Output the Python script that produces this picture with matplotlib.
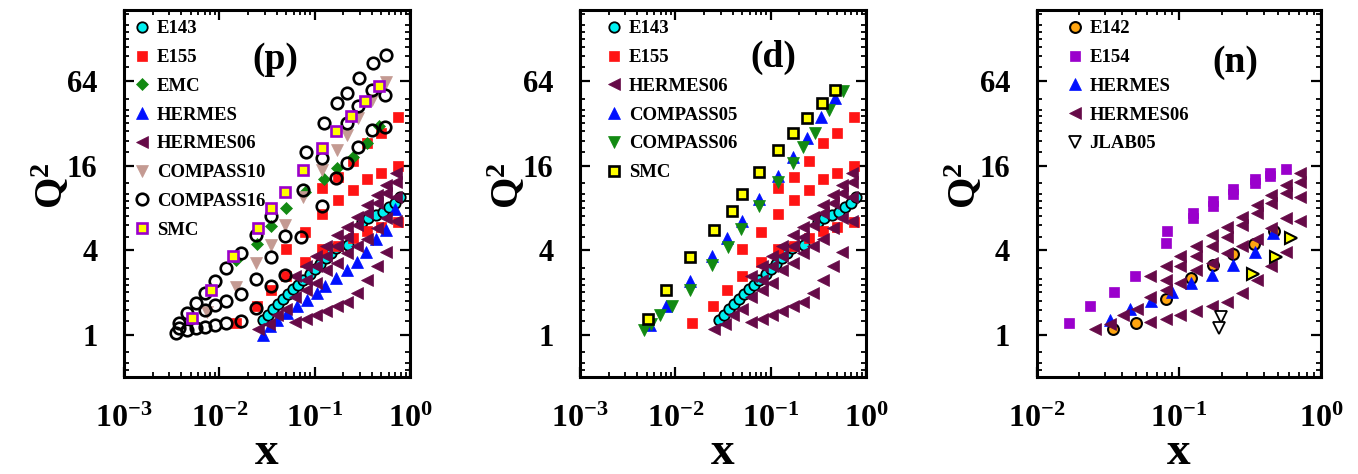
import numpy as np
import matplotlib
matplotlib.use("Agg")
import matplotlib.pyplot as plt
from matplotlib.ticker import FixedLocator, FuncFormatter, LogLocator, NullFormatter

plt.rcParams.update({
    "font.family": ["Liberation Serif", "DejaVu Serif"],
    "font.weight": "bold",
    "mathtext.fontset": "custom",
    "mathtext.rm": "Liberation Serif:bold",
    "mathtext.bf": "Liberation Serif:bold",
    "mathtext.it": "Liberation Serif:bold:italic",
})

# ---------------- data (x, Q^2) ----------------
# shared kinematics
e143_x = [0.0289, 0.0326, 0.0367, 0.0415, 0.0468, 0.0528, 0.0596, 0.0672, 0.0758, 0.0891, 0.1005,
          0.113, 0.133, 0.150, 0.169, 0.224, 0.310, 0.363, 0.444, 0.522, 0.603, 0.691, 0.780]
e143_q2 = [1.28, 1.39, 1.52, 1.66, 1.80, 1.96, 2.11, 2.27, 2.46, 2.72, 2.93,
           3.18, 3.51, 3.81, 4.13, 4.37, 6.39, 6.76, 7.13, 7.53, 8.10, 8.73, 9.63]

e155_x = [0.015, 0.025, 0.035, 0.050, 0.080, 0.120, 0.175, 0.250, 0.350, 0.500, 0.750,
          0.050, 0.080, 0.120, 0.175, 0.250, 0.350, 0.500, 0.750,
          0.120, 0.175, 0.250, 0.350, 0.500, 0.750]
e155_q2 = [1.22, 1.60, 2.08, 2.60, 3.32, 4.07, 4.30, 4.90, 5.50, 5.80, 6.30,
           4.05, 5.43, 7.20, 9.10, 10.7, 12.8, 14.2, 15.8,
           11.0, 13.2, 17.2, 23.0, 27.2, 35.5]

herm06_x = [0.0625, 0.081, 0.1027, 0.133, 0.170, 0.2164, 0.276, 0.352, 0.448, 0.566, 0.710,
            0.0406, 0.0504, 0.0625, 0.081, 0.1027, 0.133, 0.170, 0.2164, 0.276, 0.352, 0.448, 0.566, 0.710,
            0.081, 0.1027, 0.133, 0.170, 0.2164, 0.276, 0.352, 0.448, 0.566, 0.710,
            0.0257, 0.0328, 0.0625, 0.081, 0.1027, 0.133, 0.170, 0.2164, 0.276, 0.352, 0.448, 0.566, 0.710]
herm06_q2 = [2.60, 3.06, 3.61, 4.25, 5.14, 5.89, 6.94, 8.40, 9.90, 11.66, 14.27,
             1.39, 1.52, 1.87, 2.46, 3.06, 3.61, 4.25, 5.00, 6.06, 7.33, 8.64, 10.17, 12.31,
             2.09, 2.33, 2.90, 3.23, 3.81, 4.30, 4.80, 5.73, 6.75, 9.63,
             1.10, 1.20, 1.24, 1.29, 1.39, 1.47, 1.59, 1.70, 1.98, 2.46, 3.06, 3.91, 6.40]

# proton panel
emc_x = [0.015, 0.025, 0.035, 0.050, 0.080, 0.125, 0.170, 0.250, 0.350, 0.470]
emc_q2 = [3.40, 4.45, 5.96, 8.00, 10.3, 12.9, 15.3, 18.3, 23.1, 30.5]

hermes_p_x = [0.0289, 0.034, 0.040, 0.0508, 0.0646, 0.0822, 0.105, 0.128, 0.169, 0.216,
              0.275, 0.349, 0.444, 0.566, 0.690]
hermes_p_q2 = [1.00, 1.15, 1.28, 1.43, 1.59, 1.77, 1.98, 2.21, 2.53, 2.90,
               3.32, 3.91, 4.79, 5.60, 7.80]

compass10_x = [0.0074, 0.0148, 0.024, 0.0347, 0.0485, 0.0755, 0.119, 0.170, 0.219, 0.284, 0.401, 0.561]
compass10_q2 = [1.45, 2.18, 3.23, 4.32, 6.06, 9.50, 15.0, 20.7, 26.6, 34.7, 46.9, 63.3]

compass16_x = [0.00352, 0.00373, 0.00382, 0.00456, 0.00456, 0.0057, 0.0057, 0.00708, 0.00708, 0.00708,
               0.0090, 0.0090, 0.0090, 0.01175, 0.01175, 0.01175, 0.0167, 0.0167, 0.0167,
               0.024, 0.024, 0.024, 0.0347, 0.0347, 0.0347, 0.0485, 0.0485, 0.0726, 0.0755, 0.0806,
               0.119, 0.119, 0.125, 0.168, 0.170, 0.219, 0.219, 0.219, 0.284, 0.284, 0.295,
               0.401, 0.401, 0.406, 0.552, 0.552, 0.561]
compass16_q2 = [1.03, 1.12, 1.22, 1.085, 1.43, 1.12, 1.68, 1.13, 1.49, 1.98,
                1.18, 1.63, 2.42, 1.22, 1.73, 2.98, 1.26, 1.95, 3.81,
                1.55, 2.49, 5.14, 2.21, 3.55, 7.02, 2.67, 5.06, 4.95, 10.7, 19.9,
                8.31, 18.0, 32.2, 13.0, 44.4, 16.6, 32.4, 52.9, 21.8, 42.5, 67.6,
                28.7, 55.2, 86.4, 30.3, 50.9, 98.0]

smc_p_x = [0.00514, 0.00811, 0.0140, 0.0252, 0.0347, 0.0485, 0.0755, 0.119, 0.168, 0.2415, 0.334, 0.478]
smc_p_q2 = [1.31, 2.09, 3.61, 5.73, 7.96, 10.45, 14.9, 21.5, 28.2, 36.1, 46.4, 59.0]

# deuteron panel
compass05_x = [0.0054, 0.00805, 0.01436, 0.0245, 0.0352, 0.0498, 0.0763, 0.120, 0.1726, 0.238, 0.341, 0.470]
compass05_q2 = [1.18, 1.61, 2.42, 3.61, 4.87, 6.50, 9.22, 13.5, 18.5, 25.0, 35.7, 48.2]

compass06_x = [0.00467, 0.00557, 0.00697, 0.00923, 0.01436, 0.0242, 0.0355, 0.049, 0.0763, 0.120,
               0.1726, 0.219, 0.290, 0.410, 0.575]
compass06_q2 = [1.085, 1.20, 1.39, 1.59, 2.09, 3.15, 4.20, 5.64, 8.27, 12.3,
                16.8, 21.8, 27.5, 39.8, 54.6]

smc_d_x = [0.00514, 0.00805, 0.01436, 0.0252, 0.0391, 0.0498, 0.0763, 0.120, 0.1726, 0.238, 0.347, 0.470]
smc_d_q2 = [1.29, 2.09, 3.55, 5.58, 7.66, 10.06, 14.5, 20.7, 27.2, 34.7, 44.4, 55.2]

# neutron panel
e142_x = [0.0345, 0.0499, 0.081, 0.1227, 0.1726, 0.241, 0.337, 0.466]
e142_q2 = [1.10, 1.21, 1.79, 2.53, 3.15, 3.77, 4.41, 5.52]

e154_x = [0.01694, 0.0239, 0.0349, 0.0491, 0.081, 0.0828, 0.1248, 0.1248, 0.1726, 0.1726,
          0.241, 0.241, 0.342, 0.342, 0.441, 0.441, 0.566]
e154_q2 = [1.21, 1.61, 2.00, 2.63, 4.53, 5.52, 6.75, 7.41, 8.27, 9.02,
           10.06, 10.86, 11.98, 12.8, 13.5, 14.1, 15.1]

hermes_n_x = [0.0328, 0.0452, 0.0642, 0.0888, 0.1227, 0.170, 0.241, 0.342, 0.460]
hermes_n_q2 = [1.28, 1.52, 1.73, 2.00, 2.33, 2.67, 3.15, 3.91, 5.28]

jlab05_x = [0.1995, 0.192]
jlab05_q2 = [1.33, 1.12]

jlab_x = [0.333, 0.481, 0.613]
jlab_q2 = [2.70, 3.57, 4.87]

y_major = [1, 4, 16, 64]
y_major_labels = ["1", "4", "16", "64"]
y_minor_subs = [1.25, 1.5, 1.75, 2.0, 2.25, 2.5, 3.0]

# ---------------- styles ----------------
CYAN = "#00F0F0"
RED = "#FF1414"
GREEN = "#128A12"
BLUE = "#0010FF"
PURP06 = "#660A48"
ROSY = "#C49A92"
VIOLET = "#9A00CC"
ORANGE = "#FFA510"
YELLOW = "#FFFF00"

def pts(ax, x, y, marker, ms, fc, ec, mew=0.8, label=None, z=2):
    ax.plot(x, y, linestyle="none", marker=marker, ms=ms, mfc=fc, mec=ec, mew=mew,
            label=label if label else "_nolegend_", zorder=z)

fig = plt.figure(figsize=(13.58, 4.74), dpi=100)
W, H = 1358.0, 474.0
bot = 97 / H
hgt = 367 / H
ax1 = fig.add_axes([124 / W, bot, 286 / W, hgt])
ax2 = fig.add_axes([580 / W, bot, 286 / W, hgt])
ax3 = fig.add_axes([1036.7 / W, bot, 284.3 / W, hgt])

def xfmt(v, p):
    e = int(round(np.log10(v)))
    return r"$\mathbf{10^{%d}}$" % e

def yfmt(v, p):
    k = int(round(v))
    return y_major_labels[y_major.index(k)] if k in y_major else ""

def setup(ax, xmin):
    ax.set_xscale("log")
    ax.set_yscale("log")
    ax.set_xlim(xmin, 1.0)
    ax.set_ylim(0.5, 205)
    ax.xaxis.set_major_locator(LogLocator(base=10, numticks=10))
    ax.xaxis.set_minor_locator(LogLocator(base=10, subs=np.arange(2, 10), numticks=20))
    ax.xaxis.set_major_formatter(FuncFormatter(xfmt))
    ax.xaxis.set_minor_formatter(NullFormatter())
    ax.yaxis.set_major_locator(FixedLocator(y_major))
    ax.yaxis.set_major_formatter(FuncFormatter(yfmt))
    minors = [m * s for m in [0.25] + y_major for s in y_minor_subs]
    ax.yaxis.set_minor_locator(FixedLocator(minors))
    ax.yaxis.set_minor_formatter(NullFormatter())
    ax.tick_params(which="both", direction="in", top=True, right=True)
    ax.tick_params(which="major", length=7, width=1.6)
    ax.tick_params(which="minor", length=3.5, width=1.3)
    ax.tick_params(axis="x", which="major", pad=20, labelsize=23)
    ax.tick_params(axis="y", which="major", pad=19, labelsize=22)
    for sp in ax.spines.values():
        sp.set_linewidth(2.2)
    for lab in ax.get_xticklabels() + ax.get_yticklabels():
        lab.set_fontweight("bold")
    ax.set_ylabel(r"$\mathbf{Q^2}$", fontsize=29)
    ax.yaxis.set_label_coords(-0.18, 0.52)
    ax.set_xlabel("x", fontsize=34, fontweight="bold")
    ax.xaxis.set_label_coords(0.5, -0.15)

setup(ax1, 1e-3)
setup(ax2, 1e-3)
setup(ax3, 1e-2)

# ---------------- panel (p) ----------------
pts(ax1, e143_x, e143_q2, "o", 7.5, CYAN, "black", 1.3, "E143")
pts(ax1, e155_x, e155_q2, "s", 7.3, RED, RED, 0.5, "E155")
pts(ax1, emc_x, emc_q2, "D", 6.2, GREEN, GREEN, 0.5, "EMC")
pts(ax1, hermes_p_x, hermes_p_q2, "^", 9, BLUE, BLUE, 0.5, "HERMES")
pts(ax1, herm06_x, herm06_q2, "<", 9, PURP06, PURP06, 0.5, "HERMES06")
pts(ax1, compass10_x, compass10_q2, "v", 9, ROSY, ROSY, 0.5, "COMPASS10")
pts(ax1, compass16_x, compass16_q2, "o", 8.3, "none", "black", 1.9, "COMPASS16")
pts(ax1, smc_p_x, smc_p_q2, "s", 7.3, YELLOW, VIOLET, 1.9, "SMC")

# ---------------- panel (d) ----------------
pts(ax2, e143_x, e143_q2, "o", 7.5, CYAN, "black", 1.3, "E143")
pts(ax2, e155_x, e155_q2, "s", 7.3, RED, RED, 0.5, "E155")
pts(ax2, herm06_x, herm06_q2, "<", 9, PURP06, PURP06, 0.5, "HERMES06")
pts(ax2, compass05_x, compass05_q2, "^", 9, BLUE, BLUE, 0.5, "COMPASS05")
pts(ax2, compass06_x, compass06_q2, "v", 9, GREEN, GREEN, 0.5, "COMPASS06")
pts(ax2, smc_d_x, smc_d_q2, "s", 7.3, YELLOW, "black", 1.9, "SMC")

# ---------------- panel (n) ----------------
pts(ax3, e142_x, e142_q2, "o", 7.8, ORANGE, "black", 1.5, "E142")
pts(ax3, e154_x, e154_q2, "s", 7.8, VIOLET, VIOLET, 0.5, "E154")
pts(ax3, hermes_n_x, hermes_n_q2, "^", 9, BLUE, BLUE, 0.5, "HERMES")
pts(ax3, herm06_x, herm06_q2, "<", 9, PURP06, PURP06, 0.5, "HERMES06")
pts(ax3, jlab05_x, jlab05_q2, "v", 8.5, "white", "black", 1.3, "JLAB05")
pts(ax3, jlab_x, jlab_q2, ">", 8.5, YELLOW, "black", 1.5)

legend_kw = dict(loc="upper left", frameon=False, handlelength=1.0,
                 handletextpad=0.3, labelspacing=0.62, borderaxespad=0.0, borderpad=0.0,
                 numpoints=1, prop={"weight": "bold", "size": 13.5})
ax1.legend(bbox_to_anchor=(0.030, 0.972), **legend_kw)
ax2.legend(bbox_to_anchor=(0.085, 0.972), **legend_kw)
ax3.legend(bbox_to_anchor=(0.100, 0.972), **legend_kw)

ax1.text(0.53, 0.864, "(p)", transform=ax1.transAxes, ha="center", va="center",
         fontsize=27, fontweight="bold")
ax2.text(0.675, 0.872, "(d)", transform=ax2.transAxes, ha="center", va="center",
         fontsize=27, fontweight="bold")
ax3.text(0.697, 0.858, "(n)", transform=ax3.transAxes, ha="center", va="center",
         fontsize=27, fontweight="bold")

fig.savefig("out.png", dpi=100)
